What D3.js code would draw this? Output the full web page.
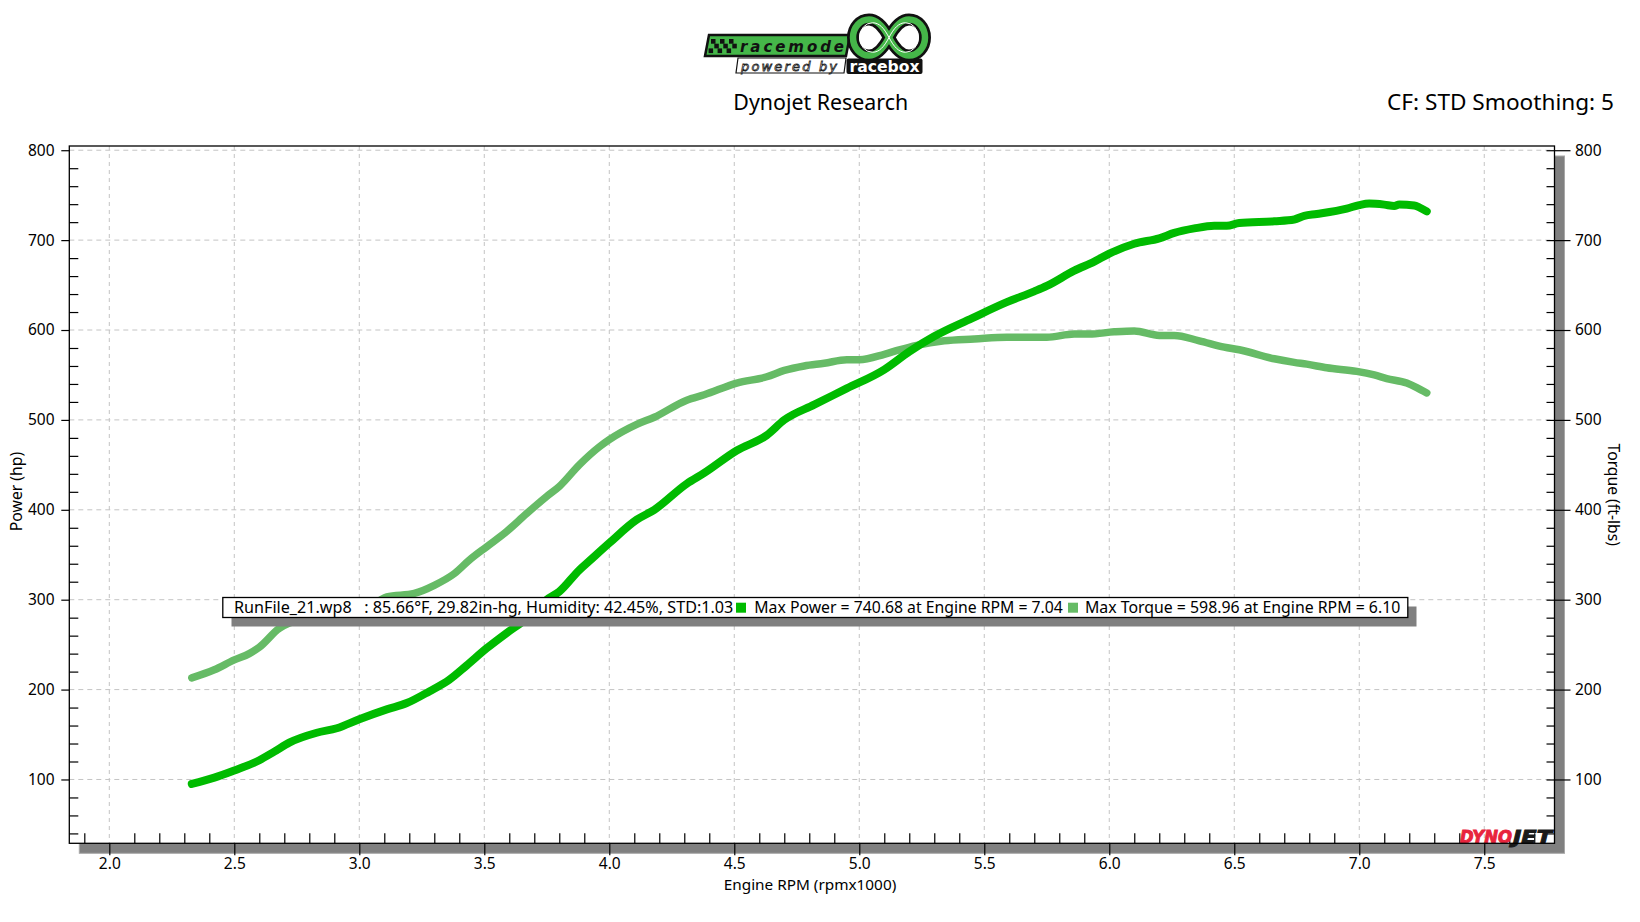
<!DOCTYPE html>
<html><head><meta charset="utf-8">
<script src="https://cdn.jsdelivr.net/npm/d3@7"></script>
<style>body{margin:0;background:#fff;} svg{display:block;} text{white-space:pre;}</style>
</head><body>
<svg id="chart" width="1640" height="922"></svg>
<script>
// ---------- data ----------
const powerRpm = [2.33,2.42,2.50,2.59,2.66,2.72,2.83,2.91,3.00,3.11,3.19,3.28,3.36,3.43,3.51,3.59,3.66,3.75,3.80,3.88,3.92,4.00,4.11,4.18,4.31,4.38,4.51,4.63,4.70,4.82,4.95,5.10,5.20,5.30,5.45,5.59,5.70,5.75,5.86,5.94,6.00,6.10,6.20,6.26,6.34,6.42,6.47,6.52,6.66,6.74,6.78,6.83,6.95,7.00,7.04,7.10,7.14,7.16,7.22,7.24,7.27];
const powerHp = [95,102,110,120,131,141,152,157,167,178,185,198,211,227,246,263,277,300,309,333,343,363,389,400,429,441,466,483,500,517,535,556,576,593,613,631,643,649,666,676,685,696,702,708,713,716,716,719,721,723,727,729,735,739,740.7,739.5,738,739.5,738.5,736.5,732];
const torqueRpm = [2.33,2.42,2.50,2.56,2.60,2.68,2.72,2.79,2.92,3.00,3.08,3.11,3.22,3.30,3.38,3.44,3.51,3.59,3.67,3.75,3.80,3.88,3.96,4.00,4.11,4.18,4.31,4.38,4.51,4.63,4.70,4.78,4.86,4.95,5.00,5.10,5.16,5.23,5.34,5.46,5.59,5.75,5.86,5.92,6.02,6.10,6.20,6.26,6.36,6.46,6.52,6.66,6.74,6.79,6.87,6.99,7.06,7.11,7.19,7.23,7.27];
const torqueLbs = [213,222,233,240,247,268,274,278,281,288,299,303,307,316,329,344,359,376,396,415,426,450,470,478,495,503,522,528,541,548,555,560,563,567,567,573,578,583,588,590,592,592,595.5,595.5,598,599,594,594,588,581,578,568,564,562,558,554,550,546,541,536,530];
const xTicks = [2.0,2.5,3.0,3.5,4.0,4.5,5.0,5.5,6.0,6.5,7.0,7.5];
const yTicks = [100,200,300,400,500,600,700,800];
const titleText = "Dynojet Research";
const cfText = "CF: STD Smoothing: 5";
const xTitle = "Engine RPM (rpmx1000)";
const yLeftTitle = "Power (hp)";
const yRightTitle = "Torque (ft-lbs)";
const legendInfo = "RunFile_21.wp8   : 85.66°F, 29.82in-hg, Humidity: 42.45%, STD:1.03";
const legendPower = "Max Power = 740.68 at Engine RPM = 7.04";
const legendTorque = "Max Torque = 598.96 at Engine RPM = 6.10";

const powerColor = "#00bb00", torqueColor = "#66bb66";
const FONT = "'Noto Sans', sans-serif";

const svg = d3.select("#chart");
const X0 = 69.3, X1 = 1554.5, Y0 = 146, Y1 = 843.3;
const x = d3.scaleLinear().domain([1.84, 7.781]).range([X0, X1]);
const y = d3.scaleLinear().domain([29.0, 804.7]).range([Y1, Y0]);

function fit(sel, w) {
  const n = sel.node();
  const fs = parseFloat(sel.attr("font-size"));
  const len = n.getComputedTextLength();
  sel.attr("font-size", fs * w / len);
  return sel;
}

// ---------- shadow + frame ----------
svg.append("rect").attr("x", X0 + 10).attr("y", Y0 + 10).attr("width", X1 - X0).attr("height", Y1 - Y0)
  .attr("fill", "#808080").attr("stroke", "#a8a8a8").attr("stroke-width", 1);
svg.append("rect").attr("x", X0).attr("y", Y0).attr("width", X1 - X0).attr("height", Y1 - Y0)
  .attr("fill", "#fff");

// gridlines
const grid = svg.append("g");
grid.selectAll("line.v").data(xTicks).join("line")
  .attr("x1", d => x(d)).attr("x2", d => x(d)).attr("y1", Y0).attr("y2", Y1)
  .attr("stroke", "#c4c4c4").attr("stroke-dasharray", "4,4");
grid.selectAll("line.h").data(yTicks).join("line")
  .attr("y1", d => y(d)).attr("y2", d => y(d)).attr("x1", X0).attr("x2", X1)
  .attr("stroke", "#c4c4c4").attr("stroke-dasharray", "5,4");

// ---------- curves ----------
const line = d3.line().x(d => x(d[0])).y(d => y(d[1])).curve(d3.curveMonotoneX);
svg.append("path").datum(torqueRpm.map((r, i) => [r, torqueLbs[i]]))
  .attr("d", line).attr("fill", "none").attr("stroke", torqueColor).attr("stroke-width", 7.5)
  .attr("stroke-linecap", "round").attr("stroke-linejoin", "round");
svg.append("path").datum(powerRpm.map((r, i) => [r, powerHp[i]]))
  .attr("d", line).attr("fill", "none").attr("stroke", powerColor).attr("stroke-width", 8)
  .attr("stroke-linecap", "round").attr("stroke-linejoin", "round");

// ---------- axes ----------
const yMinor = d3.range(40, 800, 20).filter(v => v % 100 !== 0);
const xMinor = d3.range(19, 78, 1).map(v => v / 10).filter(v => Math.abs(v * 2 - Math.round(v * 2)) > 1e-6);

function styleAxis(g) {
  g.select(".domain").remove();
  g.selectAll("line").attr("stroke", "#000").attr("stroke-width", 1.2);
  g.selectAll("text").attr("font-family", FONT).attr("font-size", 15.5).attr("fill", "#000");
}
// left
svg.append("g").attr("transform", `translate(${X0},0)`)
  .call(d3.axisLeft(y).tickValues(yTicks).tickSize(8).tickPadding(6.8).tickFormat(d3.format("d"))).call(styleAxis);
svg.append("g").attr("transform", `translate(${X0},0)`)
  .call(d3.axisRight(y).tickValues(yMinor).tickSize(9).tickFormat("")).call(styleAxis);
// right
svg.append("g").attr("transform", `translate(${X1},0)`)
  .call(d3.axisLeft(y).tickValues(yTicks.concat(yMinor)).tickSize(8).tickFormat("")).call(styleAxis);
svg.append("g").attr("transform", `translate(${X1},0)`)
  .call(d3.axisRight(y).tickValues(yTicks).tickSize(16).tickPadding(4.5).tickFormat(d3.format("d"))).call(styleAxis);
// bottom
const bx = svg.append("g").attr("transform", `translate(0,${Y1})`)
  .call(d3.axisBottom(x).tickValues(xTicks).tickSize(12).tickFormat(d3.format(".1f"))).call(styleAxis);
bx.selectAll("text").attr("y", 26.2).attr("dy", 0);
svg.append("g").attr("transform", `translate(0,${Y1})`)
  .call(d3.axisTop(x).tickValues(xMinor).tickSize(10).tickFormat("")).call(styleAxis);

// ---------- DYNOJET mark ----------
const dj = svg.append("g").attr("font-family", "'DejaVu Sans', sans-serif")
  .attr("font-weight", "bold").attr("font-style", "italic").attr("font-size", 17);
dj.append("text").attr("x", 1460).attr("y", 842.5).attr("fill", "#e8243c").attr("stroke", "#e8243c")
  .attr("stroke-width", 0.9).attr("textLength", 52).attr("lengthAdjust", "spacingAndGlyphs").text("DYNO");
dj.append("text").attr("x", 1513).attr("y", 842.5).attr("fill", "#1a1a1a").attr("stroke", "#1a1a1a")
  .attr("stroke-width", 0.9).attr("textLength", 39).attr("lengthAdjust", "spacingAndGlyphs").text("JET");

// frame border
svg.append("rect").attr("x", X0).attr("y", Y0).attr("width", X1 - X0).attr("height", Y1 - Y0)
  .attr("fill", "none").attr("stroke", "#000").attr("stroke-width", 1.3);

// ---------- legend ----------
const lg = svg.append("g");
lg.append("rect").attr("x", 231.5).attr("y", 606.5).attr("width", 1185).attr("height", 20).attr("fill", "#808080");
lg.append("rect").attr("x", 222.8).attr("y", 597.5).attr("width", 1185).attr("height", 20)
  .attr("fill", "#fff").attr("stroke", "#000").attr("stroke-width", 1.3);
fit(lg.append("text").attr("x", 234).attr("y", 612.7).attr("font-family", FONT).attr("font-size", 15)
  .text(legendInfo), 500);
lg.append("rect").attr("x", 736).attr("y", 602.7).attr("width", 10).attr("height", 10).attr("fill", powerColor);
fit(lg.append("text").attr("x", 754.3).attr("y", 612.7).attr("font-family", FONT).attr("font-size", 15)
  .text(legendPower), 309);
lg.append("rect").attr("x", 1068).attr("y", 602.7).attr("width", 10).attr("height", 10).attr("fill", torqueColor);
fit(lg.append("text").attr("x", 1085).attr("y", 612.7).attr("font-family", FONT).attr("font-size", 15)
  .text(legendTorque), 315.5);

// ---------- titles ----------
fit(svg.append("text").attr("x", 733.3).attr("y", 110).attr("font-family", FONT).attr("font-size", 21)
  .text(titleText), 175);
const cf = svg.append("text").attr("x", 1614).attr("y", 110).attr("text-anchor", "end")
  .attr("font-family", FONT).attr("font-size", 21).text(cfText);
fit(cf, 227);
fit(svg.append("text").attr("x", 810).attr("y", 890).attr("text-anchor", "middle")
  .attr("font-family", FONT).attr("font-size", 15).text(xTitle), 172.6);
fit(svg.append("text").attr("transform", "translate(22,491.5) rotate(-90)").attr("text-anchor", "middle")
  .attr("font-family", FONT).attr("font-size", 15).text(yLeftTitle), 79.5);
fit(svg.append("text").attr("transform", "translate(1608,494.7) rotate(90)").attr("text-anchor", "middle")
  .attr("font-family", FONT).attr("font-size", 15).text(yRightTitle), 102.5);

// ---------- racemode logo ----------
const logo = svg.append("g");
const lgGreen = "#45b649";
// top band
logo.append("path").attr("d", "M709,35 L850,35 L846,56 L705,56 Z")
  .attr("fill", lgGreen).attr("stroke", "#111").attr("stroke-width", 2.5);
// checkered flag
const cq = logo.append("g");
for (let r = 0; r < 3; r++) {
  for (let c = 0; c < 6; c++) {
    if ((r + c) % 2 === 0) {
      cq.append("rect").attr("x", 711 + c * 4.5 - r * 1.2).attr("y", 39 + r * 4.7)
        .attr("width", 4.5).attr("height", 4.7).attr("fill", "#111");
    }
  }
}
logo.append("text").attr("x", 740).attr("y", 52).attr("font-family", "'DejaVu Sans', sans-serif")
  .attr("font-weight", "bold").attr("font-style", "italic").attr("font-size", 15).attr("fill", "#111")
  .attr("textLength", 104).attr("lengthAdjust", "spacing").text("racemode");
// powered by
logo.append("path").attr("d", "M738,58 L846,58 L844,73 L736,73 Z").attr("fill", "#fff")
  .attr("stroke", "#111").attr("stroke-width", 1.2);
logo.append("text").attr("x", 741).attr("y", 70.5).attr("font-family", "'DejaVu Sans', sans-serif")
  .attr("font-style", "italic").attr("font-size", 13).attr("fill", "#fff").attr("stroke", "#222")
  .attr("stroke-width", 0.8).attr("textLength", 96).attr("lengthAdjust", "spacing").text("powered by");
logo.append("rect").attr("x", 846.5).attr("y", 58.5).attr("width", 76).attr("height", 15.5).attr("rx", 2).attr("fill", "#111");
logo.append("text").attr("x", 884.5).attr("y", 71.5).attr("text-anchor", "middle")
  .attr("font-family", "'DejaVu Sans', sans-serif").attr("font-weight", "bold").attr("font-size", 15)
  .attr("fill", "#fff").attr("textLength", 70).attr("lengthAdjust", "spacingAndGlyphs").text("racebox");
// infinity symbol
const inf = "M889,37.5 C895,26 901,19.5 909,19.5 A16,18 0 0 1 909,55.5 C901,55.5 895,49 889,37.5 " +
            "C883,26 877,19.5 869,19.5 A16,18 0 0 0 869,55.5 C877,55.5 883,49 889,37.5";
logo.append("path").attr("d", inf).attr("fill", "none").attr("stroke", "#111").attr("stroke-width", 12)
  .attr("stroke-linejoin", "round");
logo.append("path").attr("d", inf).attr("fill", "none").attr("stroke", lgGreen).attr("stroke-width", 6.5)
  .attr("stroke-linejoin", "round");
logo.append("path").attr("d", inf).attr("fill", "none").attr("stroke", "#fff").attr("stroke-width", 1.2)
  .attr("transform", "translate(889,37.5) scale(0.82) translate(-889,-37.5)");
</script>
</body></html>
